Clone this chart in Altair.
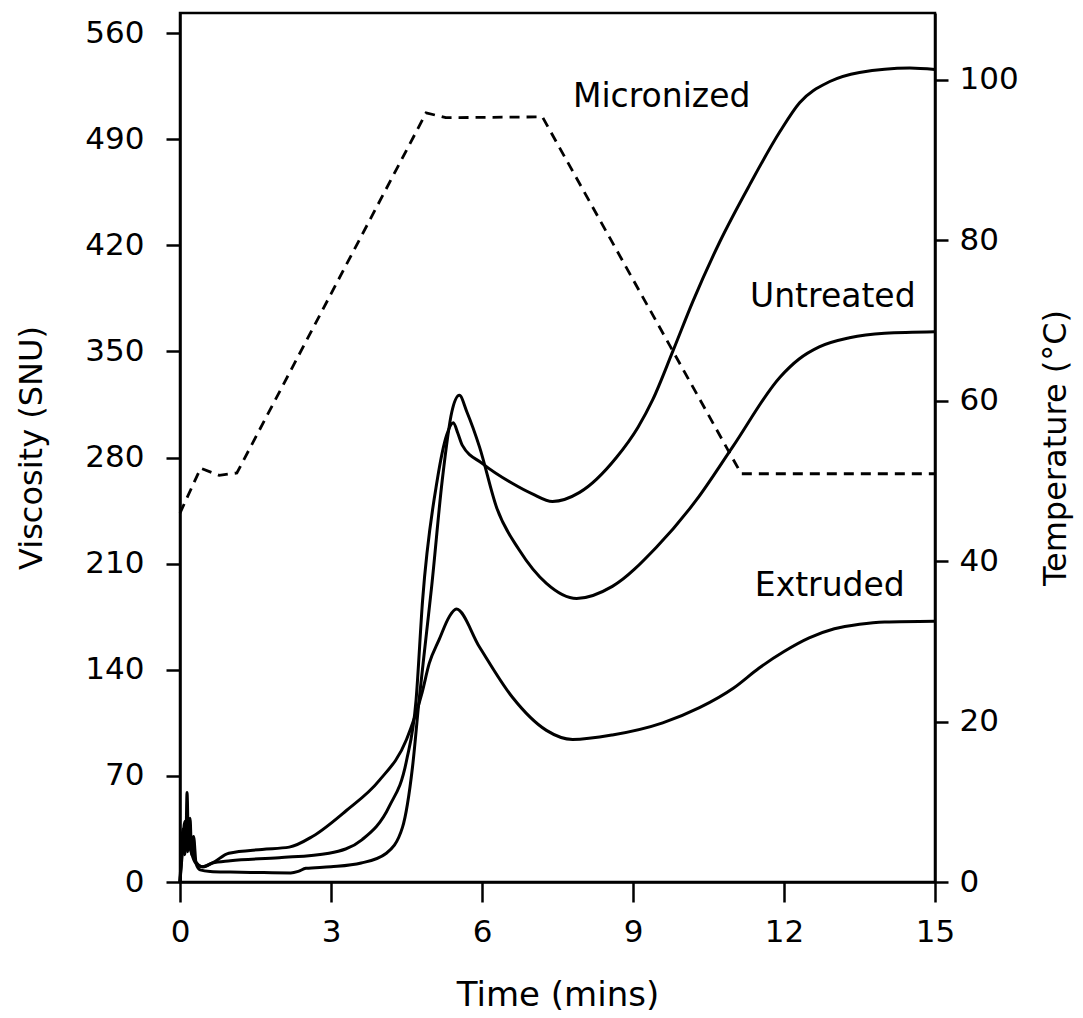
import altair as alt
import pandas as pd

# ---- data ----
untreated_t = [0, 0.03, 0.06, 0.09, 0.12, 0.14, 0.17, 0.2, 0.23, 0.27, 0.32, 0.4, 0.6, 1.0, 1.5, 2.2, 2.35,
               2.5, 3.0, 3.6, 4.1, 4.42, 4.62, 4.75, 4.9, 5.0, 5.21, 5.4, 5.55, 5.7, 5.95, 6.29, 6.74, 7.28,
               7.88, 8.59, 9.47, 10.26, 10.98, 11.92, 12.3, 12.7, 13.3, 14.0, 15.0]
untreated_v = [0, 22, 35, 18, 30, 59, 22, 42, 18, 30, 12, 8, 7, 6.6, 6.3, 6, 7,
               9, 10, 12.5, 19, 36, 76, 120, 165, 195, 265, 310, 321, 310, 287, 247, 219, 197,
               187, 195, 221, 252, 287, 333, 345, 353, 359, 362, 363]

micronized_t = [0, 0.05, 0.1, 0.15, 0.2, 0.3, 0.45, 0.64, 1.0, 1.97, 2.96, 3.62, 4.16, 4.5, 4.69, 4.82,
                5.11, 5.3, 5.43, 5.52, 5.61, 6.01, 6.6, 7.0, 7.4, 7.94, 8.67, 9.1, 9.39, 9.79, 10.19, 10.72,
                11.32, 11.92, 12.31, 12.91, 13.5, 14.5, 15.0]
micronized_v = [0, 25, 40, 20, 28, 14, 10, 12.5, 14, 16, 19, 28, 50, 80, 120, 186,
                265, 295, 303, 296, 288, 276, 263, 256, 251, 257, 280, 300, 318, 350, 383, 422,
                460, 495, 514, 528, 534, 537, 536]

extruded_t = [0, 0.05, 0.1, 0.2, 0.3, 0.45, 0.64, 0.97, 1.63, 2.17, 2.63, 3.30, 3.96, 4.50, 4.81, 4.95,
              5.15, 5.35, 5.49, 5.95, 6.60, 7.28, 7.80, 8.59, 9.59, 10.32, 11.0, 11.5, 12.0, 12.5, 13.0,
              13.5, 14.0, 15.0]
extruded_v = [0, 20, 32, 22, 13, 10, 12.5, 19, 21.5, 23, 30, 47, 67, 94, 125, 144,
              160, 175, 180, 155, 122, 100, 94, 97, 105, 115, 128, 141, 152, 161, 167,
              170, 171.5, 172]

temp_t = [0, 0.41, 0.78, 1.13, 4.89, 5.28, 7.2, 11.15, 15.0]
temp_v = [46.0, 51.6, 50.7, 51.0, 95.9, 95.3, 95.4, 50.9, 50.9]

label_text = ["Micronized", "Untreated", "Extruded"]
label_t = [9.57, 12.97, 12.91]
label_v = [518, 386, 195]

x_ticks = [0, 3, 6, 9, 12, 15]
visc_ticks = [0, 70, 140, 210, 280, 350, 420, 490, 560]
temp_ticks = [0, 20, 40, 60, 80, 100]

# ---- tables ----
rows = []
for name, ts, vs in [("Untreated", untreated_t, untreated_v),
                     ("Micronized", micronized_t, micronized_v),
                     ("Extruded", extruded_t, extruded_v)]:
    for t, v in zip(ts, vs):
        rows.append({"series": name, "time": t, "visc": v})
visc_df = pd.DataFrame(rows)
temp_df = pd.DataFrame({"time": temp_t, "temp": temp_v})
label_df = pd.DataFrame({"time": label_t, "visc": label_v, "label": label_text})

FONT = "DejaVu Sans"

x_enc = alt.X("time:Q",
              scale=alt.Scale(domain=[0, 15], nice=False, zero=False),
              axis=alt.Axis(values=x_ticks, title="Time (mins)", labelFlush=False,
                            tickSize=20, labelPadding=15, titlePadding=31, titleFontSize=34))

y_left = alt.Y("visc:Q",
               scale=alt.Scale(domain=[0, 573.2], nice=False),
               axis=alt.Axis(values=visc_ticks, title="Viscosity (SNU)", orient="left",
                             tickSize=14, labelPadding=22, titlePadding=36))

lines = alt.Chart(visc_df).mark_line(color="black", strokeWidth=3, interpolate="monotone").encode(
    x=x_enc, y=y_left, detail="series:N")

labels = alt.Chart(label_df).mark_text(font=FONT, fontSize=33, color="black",
                                       align="center", baseline="middle").encode(
    x=x_enc, y=y_left, text="label:N")

temp = alt.Chart(temp_df).mark_line(color="black", strokeWidth=2.8, strokeDash=[10, 7]).encode(
    x=x_enc,
    y=alt.Y("temp:Q",
            scale=alt.Scale(domain=[0, 108.35], nice=False),
            axis=alt.Axis(values=temp_ticks, title="Temperature (°C)", orient="right",
                          tickSize=13, labelPadding=11, titlePadding=22,
                          titleAngle=270, titleBaseline="top")))

chart = alt.layer(alt.layer(lines, labels), temp).resolve_scale(y="independent").properties(
    width=755, height=869,
    autosize=alt.AutoSizeParams(type="none"),
    padding={"left": 172, "top": 5, "right": 140, "bottom": 134},
).configure_view(stroke="black", strokeWidth=2.5).configure_axis(
    grid=False, domainColor="black", domainWidth=2.5, tickColor="black", tickWidth=2.5,
    labelFont=FONT, labelFontSize=31, labelColor="black",
    titleFont=FONT, titleFontSize=32, titleFontWeight="normal", titleColor="black"
)

chart.save("out.html", embed_options={"renderer": "svg", "actions": False})
